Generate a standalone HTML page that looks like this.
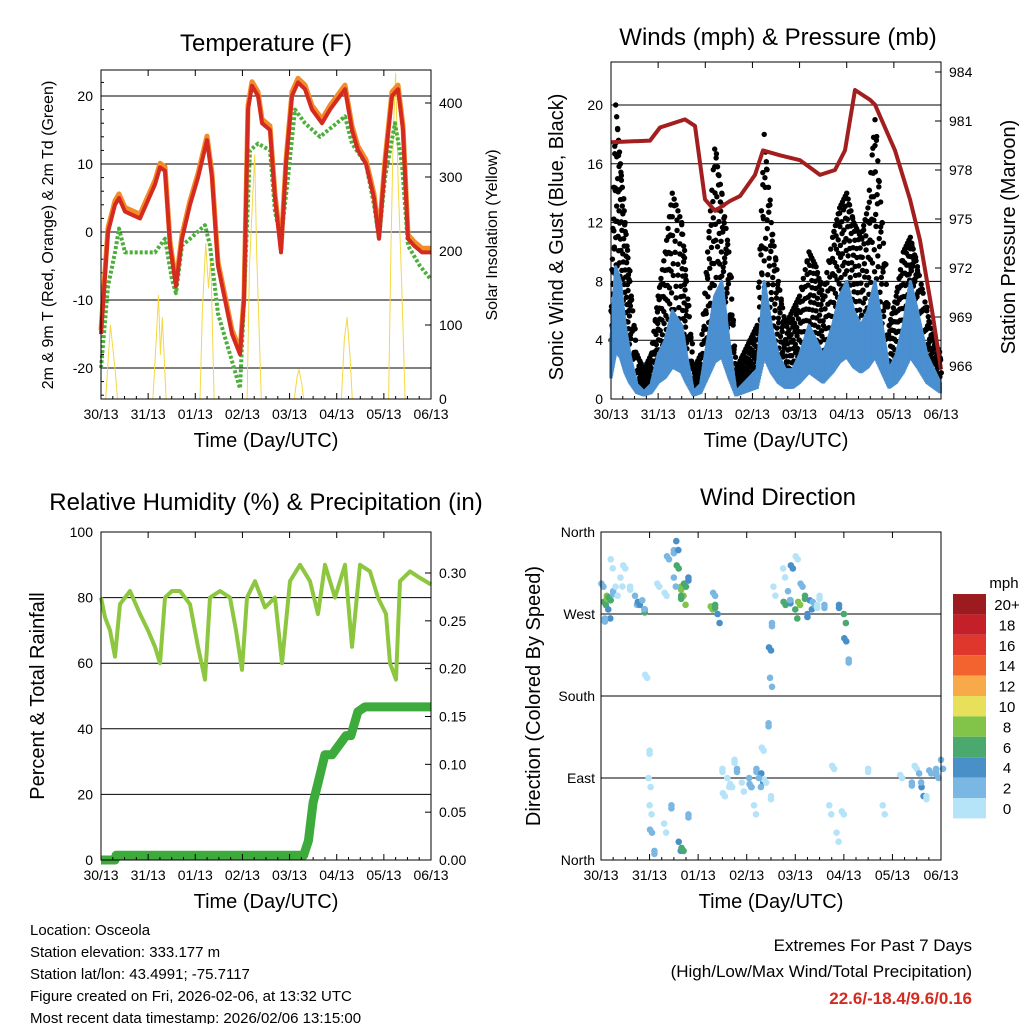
<!DOCTYPE html>
<html><head><meta charset="utf-8"><style>
body{margin:0;background:#fff}
svg{display:block;font-family:"Liberation Sans",sans-serif}
</style></head><body>
<svg id="c" width="1024" height="1024" xmlns="http://www.w3.org/2000/svg"></svg>
<script>
// ---- data ----
const dayLabels=["30/13","31/13","01/13","02/13","03/13","04/13","05/13","06/13"];
const tempX=[101,108,115,119,125,140,155,160,165,170,176,182,190,198,207,212,218,225,232,240,244,248,252,258,262,270,275,281,286,292,298,305,312,322,330,345,352,358,366,374,379,385,392,398,403,408,414,422,431];
const tempT=tempX.map(x=>(x-101)/330*7);
const tempRed=[-15,0,4,5,3,2,7,9.5,9,-2,-8,-1,4,8,13.5,8,-5,-10,-15,-18,-10,18,21.5,20,16,15,5,-3,10,20,22,21,18,16,18,21,15,12,10,5,-1,10,20,21,15,-1,-2,-3,-3];
const tempDewT=[101,108,115,119,125,155,165,172,176,182,190,205,210,218,230,240,244,250,258,270,275,281,288,295,305,320,345,352,366,374,379,385,395,402,408,420,431].map(x=>(x-101)/330*7);
const tempDew=[-20,-8,-3,0.5,-3,-3,-1,-7,-9,-2,-1,1,-2,-12,-18,-23,-10,12,13,12,3,-1,8,18,16,14,17,13,10,4,-1,8,16,10,-2,-5,-7];
const solarT=[0,0.1,0.2,0.3,0.35,1.1,1.18,1.22,1.26,1.3,1.38,2.1,2.15,2.22,2.28,2.33,2.4,3.1,3.15,3.2,3.26,3.3,3.4,4.1,4.16,4.2,4.26,4.3,5.1,5.16,5.22,5.28,5.33,6.1,6.15,6.2,6.25,6.3,6.38,6.45,7];
const solarV=[0,0,100,40,0,0,90,140,60,110,0,0,120,210,150,190,0,0,180,250,330,200,0,0,30,40,20,0,0,80,110,60,0,0,200,360,440,300,150,0,0];
const windT=[0,0.1,0.2,0.3,0.4,0.55,0.7,0.85,1.0,1.15,1.3,1.5,1.6,1.75,1.9,2.05,2.2,2.35,2.5,2.65,2.8,2.95,3.1,3.25,3.4,3.55,3.7,3.85,4.0,4.2,4.35,4.5,4.7,4.85,5.0,5.15,5.3,5.45,5.6,5.75,5.9,6.05,6.2,6.35,6.5,6.7,6.85,7.0];
const sonic=[4,9,8,5,3,1,0.5,1,3,4,6,5,3,0.5,1,4,7,8,4,0.5,1,1.5,2,8,5,3,2,2,3,5,4,3,5,7,8,6,5,6,8,5,2,3,5,8,6,3,2,1];
const gust=[6,20,16,12,8,3,2,3,7,10,14,12,8,2,3,10,17,14,10,2,3,4,5,18,12,8,5,6,7,10,9,7,11,13,14,12,11,13,19,12,5,7,10,11,9,6,4,3];
const presT=[611,650,660,685,695,705,715,730,740,755,763,780,800,820,835,845,855,870,875,895,910,920,932,941].map(x=>(x-611)/330*7);
const pres=[979.7,979.8,980.6,981.1,980.7,976.2,975.5,976.1,976.4,977.7,979.2,978.9,978.6,977.7,978,979.2,982.9,982.3,982,979.2,976.2,973.7,969.4,965.8];
const rhX=[101,105,110,115,120,130,140,148,155,160,165,172,180,190,198,205,210,220,230,236,242,247,255,265,275,282,290,300,310,318,325,335,345,352,360,370,378,386,390,396,400,410,420,431];
const rhT=rhX.map(x=>(x-101)/330*7);
const rh=[80,74,70,62,78,82,75,70,65,60,80,82,82,78,65,55,80,82,80,70,58,80,85,77,80,60,85,90,85,75,90,80,90,65,90,88,80,75,60,55,85,88,86,84];
const precT=[0,0.3,0.32,4.3,4.4,4.5,4.6,4.75,4.9,5.2,5.3,5.45,5.6,5.7,7];
const prec=[0,0,0.005,0.005,0.02,0.06,0.08,0.11,0.11,0.13,0.13,0.155,0.16,0.16,0.16];
const dirT=[0.1,0.12,0.15,0.2,0.25,0.3,0.05,0.08,0.4,0.5,0.6,0.7,0.8,0.9,0.85,0.95,1.0,1.0,1.05,1.1,0.98,1.4,1.5,1.55,1.6,1.65,1.7,1.75,1.8,1.5,1.35,1.45,1.6,1.7,1.8,1.3,2.3,2.35,2.4,2.35,2.5,2.6,2.7,2.8,2.9,2.55,2.75,3.05,3.1,3.2,3.3,3.4,3.5,3.15,3.35,3.45,3.48,3.5,3.52,3.55,3.8,3.9,4.0,4.1,4.2,4.3,4.4,4.5,3.85,4.15,4.25,3.75,4.05,4.6,4.7,4.8,4.9,5.0,5.05,5.1,4.85,5.0,5.5,5.8,6.2,6.4,6.6,6.8,6.9,7.0,6.5,6.7,0.2,1.2,1.65,3.25,3.95,4.45,6.55,6.95];
const dirD=[280,290,275,285,295,300,300,265,310,320,300,290,280,275,285,200,120,60,30,10,90,330,340,350,320,300,290,300,310,310,290,60,20,10,50,40,275,280,270,290,100,90,80,100,85,70,110,90,80,100,95,85,70,60,120,150,200,230,260,300,280,285,275,280,290,285,280,290,295,300,270,320,330,280,60,100,280,270,240,220,30,50,100,60,90,85,80,95,100,110,100,70,330,300,290,90,320,280,95,90];
const dirS=[6,8,4,6,2,1,2,3,1,0,1,2,4,6,3,1,0,1,2,3,0,2,3,4,6,8,8,6,4,2,1,2,4,6,3,0,8,6,4,2,1,0,1,2,1,0,1,2,3,2,4,1,0,1,1,2,3,4,2,1,6,4,6,8,6,4,2,1,2,2,4,0,1,2,0,1,4,6,4,2,1,0,0,0,1,2,4,2,3,2,1,1,0,1,6,2,4,1,2,3];
const cbLabels=["20+","18","16","14","12","10","8","6","4","2","0"];
const cbColors=["#9b1b1e","#c4202a","#e0372c","#f26330","#f8a94a","#e8e05a","#82c34a","#4aaa6e","#4a90c8","#7ab8e3","#b5e3f8"];
// ---- helpers ----
const svg=document.getElementById('c');const NS="http://www.w3.org/2000/svg";
function mk(t,a,p){const e=document.createElementNS(NS,t);for(const k in a)e.setAttribute(k,a[k]);(p||svg).appendChild(e);return e;}
function txt(s,x,y,sz,anchor,rot,fill,w){const a={x:x,y:y,'font-size':sz,'text-anchor':anchor||'middle',fill:fill||'#000'};if(w)a['font-weight']=w;if(rot)a.transform=`rotate(${rot} ${x} ${y})`;const e=mk('text',a);e.textContent=s;return e;}
function lin(d0,d1,p0,p1){return v=>p0+(v-d0)/(d1-d0)*(p1-p0);}
function frame(x0,y0,x1,y1,name){const r=mk('rect',{x:x0,y:y0,width:x1-x0,height:y1-y0,fill:'none',stroke:'#000','stroke-width':1});}
function xAxis(x0,x1,y1,y0){const xs=lin(0,7,x0,x1);dayLabels.forEach((l,i)=>{const x=xs(i);mk('line',{x1:x,y1:y1,x2:x,y2:y1-6,stroke:'#000'});mk('line',{x1:x,y1:y0,x2:x,y2:y0+6,stroke:'#000'});const t=txt(l,x,y1+20,14);if(i<7)for(let k=1;k<4;k++){const xm=xs(i+k/4);mk('line',{x1:xm,y1:y1,x2:xm,y2:y1-3,stroke:'#000'});}});const t=txt("Time (Day/UTC)",(x0+x1)/2,y1+48,20);return xs;}
function path(pts,attrs){let d='';pts.forEach((p,i)=>d+=(i?'L':'M')+p[0].toFixed(1)+','+p[1].toFixed(1));attrs.d=d;attrs.fill='none';attrs['stroke-linejoin']='round';return mk('path',attrs);}
// ---- Panel 1 Temperature ----
{const X0=101,X1=431,Y0=70,Y1=399;const y=lin(0,-20,232,368);const yr=lin(0,400,399,103);
const xs=lin(0,7,X0,X1);
[-20,-10,0,10,20].forEach(v=>{const l=mk('line',{x1:X0,x2:X1,y1:y(v),y2:y(v),stroke:'#000'});const t=txt(v,X0-8,y(v)+5,14,'end');});
for(let v=-24;v<=22;v+=2){mk('line',{x1:X0,x2:X0+(v%10?3:6),y1:y(v),y2:y(v),stroke:'#000'});}
[0,100,200,300,400].forEach(v=>{mk('line',{x1:X1,x2:X1-6,y1:yr(v),y2:yr(v),stroke:'#000'});const t=txt(v,X1+8,yr(v)+5,14,'start');});
const s=path(solarT.map((t,i)=>[xs(t),yr(solarV[i])]),{stroke:'#f5d842','stroke-width':1});
const o=path(tempT.map((t,i)=>[xs(t),y(tempRed[i]+0.6)]),{stroke:'#f28c28','stroke-width':5});
const g=path(tempDewT.map((t,i)=>[xs(t),y(tempDew[i])]),{stroke:'#4caf3c','stroke-width':4,'stroke-dasharray':'3 2'});
const r=path(tempT.map((t,i)=>[xs(t),y(tempRed[i])]),{stroke:'#d42a20','stroke-width':4});
frame(X0,Y0,X1,Y1,'temperature-plot-frame');xAxis(X0,X1,Y1,Y0);
let t=txt("Temperature (F)",266,51,24);
t=txt("2m & 9m T (Red, Orange) & 2m Td (Green)",53,235,16,'middle',-90);
t=txt("Solar Insolation (Yellow)",497,235,16,'middle',-90);}
// ---- Panel 2 Winds ----
{const X0=611,X1=941,Y0=62,Y1=399;const y=lin(0,20,399,105);const yr=lin(966,984,366,72);const xs=lin(0,7,X0,X1);
[4,8,12,16,20].forEach(v=>{const l=mk('line',{x1:X0,x2:X1,y1:y(v),y2:y(v),stroke:'#000'});});
[0,4,8,12,16,20].forEach(v=>{const t=txt(v,X0-8,y(v)+5,14,'end');});
[966,969,972,975,978,981,984].forEach(v=>{mk('line',{x1:X1,x2:X1-6,y1:yr(v),y2:yr(v),stroke:'#000'});const t=txt(v,X1+8,yr(v)+5,14,'start');});
const gg=mk('g',{});
const gb=mk('g',{});
const N=10;
for(let i=0;i<windT.length-1;i++){for(let k=0;k<N;k++){const f=k/N;const t=windT[i]+(windT[i+1]-windT[i])*f;const lo=sonic[i]+(sonic[i+1]-sonic[i])*f;const hi=gust[i]+(gust[i+1]-gust[i])*f;const x=xs(t);
 const q=((i*N+k)*0.618)%1;
 mk('circle',{cx:x,cy:y(lo+(hi-lo)*q),r:2.7,fill:'#000'},gg);
 mk('circle',{cx:x+1,cy:y(lo+(hi-lo)*((q+0.5)%1)),r:2.7,fill:'#000'},gg);
 if(k%2==0)mk('circle',{cx:x,cy:y(hi),r:2.7,fill:'#000'},gg);
 mk('line',{x1:x,x2:x,y1:y(lo*0.35),y2:y(lo),stroke:'#4a8fd0','stroke-width':3.5},gb);}}
const b=path(windT.map((t,i)=>[xs(t),y(sonic[i])]),{stroke:'#4a8fd0','stroke-width':3});
const p=path(presT.map((t,i)=>[xs(t),yr(pres[i])]),{stroke:'#a31f1f','stroke-width':4});
frame(X0,Y0,X1,Y1,'winds-plot-frame');xAxis(X0,X1,Y1,Y0);
let t=txt("Winds (mph) & Pressure (mb)",778,45,24);
t=txt("Sonic Wind & Gust (Blue, Black)",563,237,20,'middle',-90);
t=txt("Station Pressure (Maroon)",1015,237,20,'middle',-90);}
// ---- Panel 3 RH ----
{const X0=101,X1=431,Y0=532,Y1=860;const y=lin(0,100,860,532);const yr=lin(0,0.3,860,573);const xs=lin(0,7,X0,X1);
[20,40,60,80].forEach(v=>{const l=mk('line',{x1:X0,x2:X1,y1:y(v),y2:y(v),stroke:'#000'});});
[0,20,40,60,80,100].forEach(v=>{const t=txt(v,X0-8,y(v)+5,14,'end');});
["0.00","0.05","0.10","0.15","0.20","0.25","0.30"].forEach(v=>{mk('line',{x1:X1,x2:X1-6,y1:yr(+v),y2:yr(+v),stroke:'#000'});const t=txt(v,X1+8,yr(+v)+5,14,'start');});
const g=path(rhT.map((t,i)=>[xs(t),y(rh[i])]),{stroke:'#8dc63f','stroke-width':4});
const pr=path(precT.map((t,i)=>[xs(t),yr(prec[i])]),{stroke:'#3cab3c','stroke-width':9});
frame(X0,Y0,X1,Y1,'humidity-plot-frame');xAxis(X0,X1,Y1,Y0);
let t=txt("Relative Humidity (%) & Precipitation (in)",266,510,24);
t=txt("Percent & Total Rainfall",44,696,20,'middle',-90);}
// ---- Panel 4 Wind Direction ----
{const X0=601,X1=941,Y0=532,Y1=860;const y=lin(0,360,860,532);const xs=lin(0,7,X0,X1);
[["North",360],["West",270],["South",180],["East",90],["North",0]].forEach(([l,v])=>{if(v%360)mk('line',{x1:X0,x2:X1,y1:y(v),y2:y(v),stroke:'#000'});const t=txt(l,X0-6,y(v)+5,14,'end');});
const gp=mk('g',{});
dirT.forEach((t,i)=>{const idx=10-Math.min(10,Math.floor(dirS[i]/2));const j=(i%3)-1;
 mk('circle',{cx:xs(t),cy:y(dirD[i]),r:3.3,fill:cbColors[idx]},gp);
 mk('circle',{cx:xs(t)+2*j,cy:y(dirD[i])+6*j+3,r:3.3,fill:cbColors[idx]},gp);});
frame(X0,Y0,X1,Y1,'direction-plot-frame');xAxis(X0,X1,Y1,Y0);
let t=txt("Wind Direction",778,505,24);
t=txt("Direction (Colored By Speed)",540,696,20,'middle',-90);
t=txt("mph",1004,588,15);
cbLabels.forEach((l,i)=>{const r=mk('rect',{x:953,y:594+i*20.4,width:33,height:20.4,fill:cbColors[i]});const tt=txt(l,1007,610+i*20.4,15);});}
// ---- footer ----
["Location: Osceola","Station elevation: 333.177 m","Station lat/lon: 43.4991; -75.7117","Figure created on Fri, 2026-02-06, at 13:32 UTC","Most recent data timestamp: 2026/02/06 13:15:00"].forEach((s,i)=>{const t=txt(s,30,935+i*22,15,'start');});
let t=txt("Extremes For Past 7 Days",972,951,17,'end');
t=txt("(High/Low/Max Wind/Total Precipitation)",972,977,17,'end');
t=txt("22.6/-18.4/9.6/0.16",972,1004,17,'end',0,'#d42a20','bold');
</script>
</body></html>
